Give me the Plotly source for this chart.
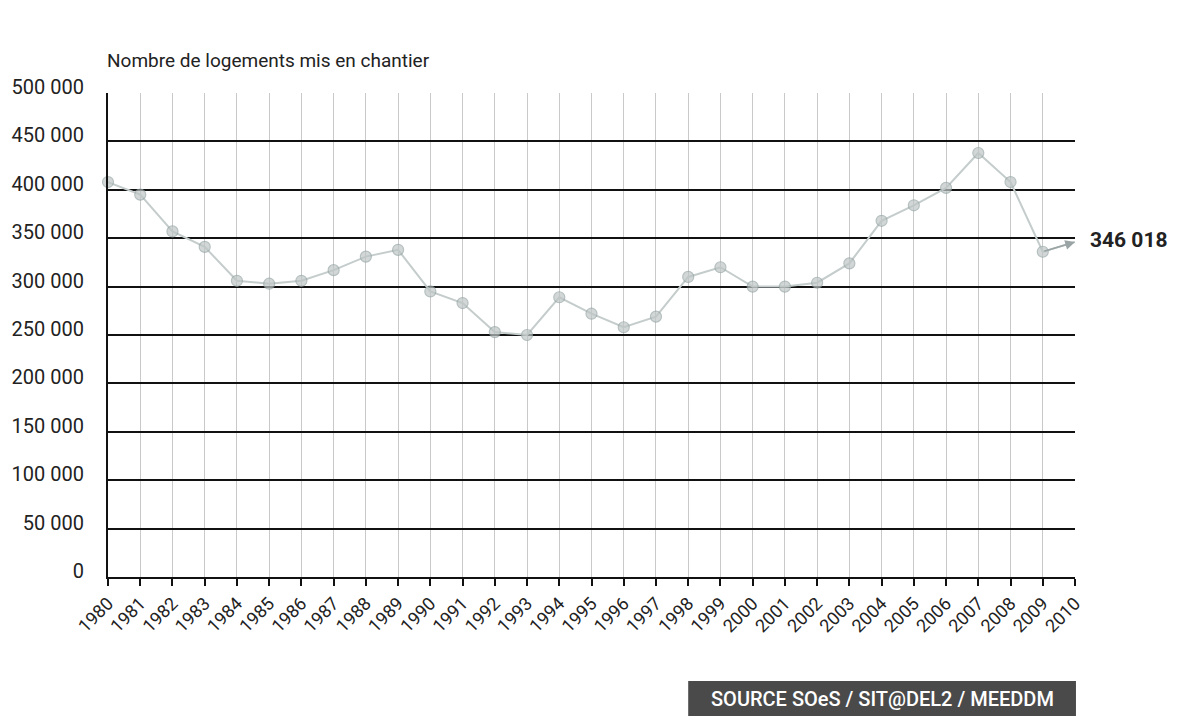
import plotly.graph_objects as go

# Housing starts in France, 1980-2010
years = list(range(1980, 2011))
logements = [408000, 395000, 357000, 341000, 306000, 303000, 306000, 317000,
             331000, 338000, 295000, 283000, 253000, 250000, 289000, 272000,
             258000, 269000, 310000, 320000, 300000, 300000, 304000, 324000,
             368000, 384000, 402000, 438000, 408000, 336000, 346018]

y_ticks = [0, 50000, 100000, 150000, 200000, 250000, 300000, 350000, 400000, 450000, 500000]
y_labels = ["0", "50 000", "100 000", "150 000", "200 000", "250 000",
            "300 000", "350 000", "400 000", "450 000", "500 000"]

title_text = "Nombre de logements mis en chantier"
last_label = "346 018"
source_text = "SOURCE SOeS / SIT@DEL2 / MEEDDM"

FONT = "Roboto, sans-serif"

# last point is shown as an arrow head instead of a marker
marker_sizes = [11] * (len(years) - 1) + [0]

fig = go.Figure()
fig.add_trace(go.Scatter(
    x=years, y=logements, mode="lines+markers",
    line=dict(color="#c5cccc", width=2),
    marker=dict(size=marker_sizes, color="#bfc6c6",
                line=dict(color="#98a6a6", width=1.2)),
    cliponaxis=False,
    hoverinfo="x+y", showlegend=False,
))

# arrow on the final segment
fig.add_annotation(
    x=years[-1], y=logements[-1], ax=years[-2], ay=logements[-2],
    xref="x", yref="y", axref="x", ayref="y",
    text="", showarrow=True, arrowhead=2, arrowsize=1.3, arrowwidth=1.5,
    arrowcolor="#9aa4a4", standoff=0,
)

# value of the last year
fig.add_annotation(
    x=years[-1], y=logements[-1], xref="x", yref="y",
    text="<b>" + last_label + "</b>", showarrow=False,
    xanchor="left", yanchor="middle", xshift=13, yshift=2,
    font=dict(family=FONT, size=21, color="#222222"),
)

# chart title
fig.add_annotation(
    x=-0.003, y=1.068, xref="paper", yref="paper",
    text=title_text, showarrow=False, xanchor="left", yanchor="middle",
    font=dict(family=FONT, size=19, color="#222222"),
)

# source banner
fig.add_shape(type="rect", xref="paper", yref="paper",
              x0=0.600, x1=1.001, y0=-0.30, y1=-0.215,
              fillcolor="#4a4a4a", line=dict(width=0), layer="above")
fig.add_annotation(
    x=0.8005, y=-0.252, xref="paper", yref="paper",
    text=source_text, showarrow=False, xanchor="center", yanchor="middle",
    font=dict(family=FONT, size=20, color="#ffffff", weight=500),
)

fig.update_layout(
    width=1182, height=716,
    margin=dict(l=105, r=107, t=93, b=139),
    paper_bgcolor="#ffffff", plot_bgcolor="#ffffff",
    font=dict(family=FONT, color="#222222"),
)

fig.update_xaxes(
    range=[1980, 2010], tickmode="array", tickvals=years,
    ticktext=[str(y) for y in years], tickangle=-45,
    tickfont=dict(family=FONT, size=18, color="#222222"),
    showgrid=True, gridcolor="#c9c9c9", gridwidth=1,
    showline=True, linecolor="#111111", linewidth=2,
    ticks="outside", ticklen=7, tickwidth=2, tickcolor="#111111",
    zeroline=False,
)

fig.update_yaxes(
    range=[0, 500000], tickmode="array", tickvals=y_ticks, ticktext=y_labels,
    tickfont=dict(family=FONT, size=20, color="#222222"),
    showgrid=True, gridcolor="#111111", gridwidth=2,
    showline=True, linecolor="#111111", linewidth=2,
    ticks="", ticklabelstandoff=18, ticklabelshift=-6,
    zeroline=False,
)

fig.write_html("out.html")
